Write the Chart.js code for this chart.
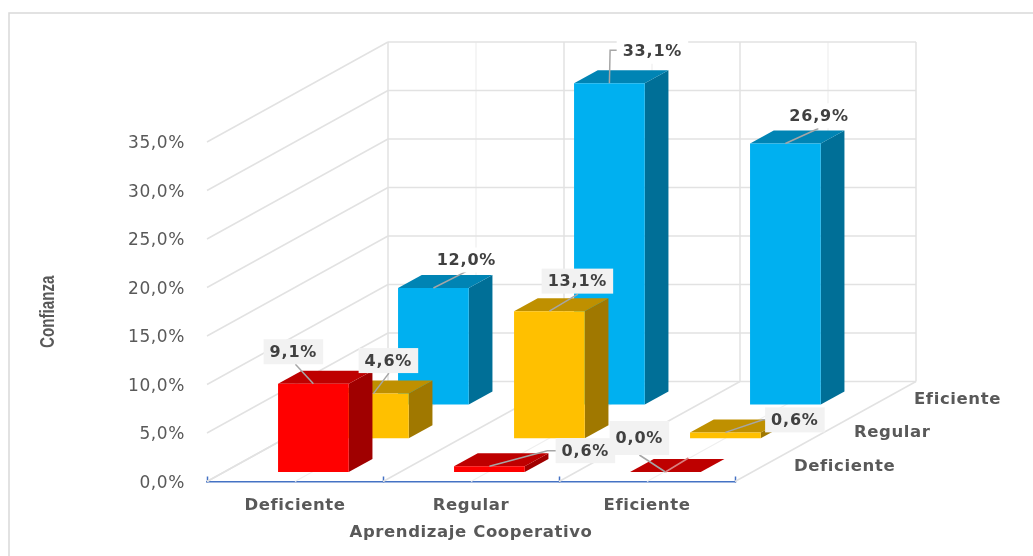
<!DOCTYPE html>
<html>
<head>
<meta charset="utf-8">
<script src="https://cdn.jsdelivr.net/npm/chart.js@4"></script>
<style>
    html, body { margin: 0; padding: 0; background: #fff; }
    canvas { display: block; }
</style>
</head>
<body>
<canvas id="graph" width="1033" height="556"></canvas>
<script>
const categories = ['Deficiente', 'Regular', 'Eficiente'];
const seriesNames = ['Deficiente', 'Regular', 'Eficiente'];
const valuesDeficiente = [9.1, 0.6, 0.0];
const valuesRegular = [4.6, 13.1, 0.6];
const valuesEficiente = [12.0, 33.1, 26.9];
const yTicks = [0, 5, 10, 15, 20, 25, 30, 35];
const xTitle = 'Aprendizaje Cooperativo';
const yTitle = 'Confianza';

// colours per series: front, top, side
const faces = [
    ['#FF0000', '#BE0000', '#A00000'],
    ['#FFC000', '#BF9000', '#A07800'],
    ['#00B0F0', '#0084B4', '#006F97']
];

// projection of the depth axis, in pixels
const wallDepth = { x: 181, y: -100 };
const slot = { x: 60, y: -33.8 };
const firstSlot = { x: 18.4, y: -9.5 };
const barDepth = { x: 23.7, y: -13 };

// data label placement relative to the top centre of each bar [series][category]
const labelPlaces = [
    [
        { at: [-20, -32], lead: [[-18, -19.5]], box: '#F2F2F2' },
        { at: [96, -15.5], lead: [[58, -15.5], [67, -15.5]], box: '#F2F2F2' },
        { at: [-26, -34], lead: [[-26, -17]], box: '#F2F2F2', boxH: 34, extra: [23, -14] }
    ],
    [
        { at: [15, -33], lead: [[15.5, -20.5]], box: '#F2F2F2' },
        { at: [28, -30], lead: [[28.5, -17]], box: '#F2F2F2' },
        { at: [69.5, -12.5], lead: [[37.6, -12.7], [40, -12.7]], box: '#F2F2F2' }
    ],
    [
        { at: [33, -28], lead: [[32.5, -16.3]], box: '#FFFFFF' },
        { at: [43, -32], lead: [[0.7, -33], [8, -33]], box: '#FFFFFF' },
        { at: [33.7, -27.7], lead: [[33, -15]], box: '#FFFFFF' }
    ]
];

function pct(v) {
    return v.toFixed(1).replace('.', ',') + '%';
}

function line(ctx, x1, y1, x2, y2) {
    ctx.beginPath();
    ctx.moveTo(x1, y1);
    ctx.lineTo(x2, y2);
    ctx.stroke();
}

function poly(ctx, pts, color) {
    ctx.fillStyle = color;
    ctx.beginPath();
    pts.forEach((p, i) => i ? ctx.lineTo(p[0], p[1]) : ctx.moveTo(p[0], p[1]));
    ctx.closePath();
    ctx.fill();
}

const frame3d = {
    id: 'frame3d',
    beforeDraw(chart) {
        // the reference text is wider than the installed fonts
        chart.ctx.letterSpacing = '0.6px';
    },
    beforeDatasetsDraw(chart) {
        const { ctx, scales: { x, y } } = chart;
        const bottom = y.getPixelForValue(0);
        const top = y.getPixelForValue(35);
        ctx.save();
        // outer frame of the picture, open at the right and bottom
        ctx.strokeStyle = '#D9D9D9';
        ctx.lineWidth = 1.5;
        ctx.beginPath();
        ctx.moveTo(9, 556);
        ctx.lineTo(9, 13);
        ctx.lineTo(1033, 13);
        ctx.stroke();

        // faint lines at the middle of each category
        ctx.strokeStyle = '#EFEFEF';
        ctx.lineWidth = 1.2;
        categories.forEach((c, i) => {
            const px = x.getPixelForTick(i);
            line(ctx, px, bottom, px + wallDepth.x, bottom + wallDepth.y);
            line(ctx, px + wallDepth.x, bottom + wallDepth.y, px + wallDepth.x, top + wallDepth.y);
        });

        // walls and floor
        ctx.strokeStyle = '#E2E2E2';
        ctx.lineWidth = 1.5;
        const step = x.width / categories.length;
        for (let i = 0; i <= categories.length; i++) {
            const px = x.left + step * i;
            line(ctx, px, bottom, px + wallDepth.x, bottom + wallDepth.y);
            line(ctx, px + wallDepth.x, bottom + wallDepth.y, px + wallDepth.x, top + wallDepth.y);
        }
        y.ticks.forEach(t => {
            const py = y.getPixelForValue(t.value);
            line(ctx, x.left, py, x.left + wallDepth.x, py + wallDepth.y);
            line(ctx, x.left + wallDepth.x, py + wallDepth.y, x.right + wallDepth.x, py + wallDepth.y);
        });
        ctx.restore();
    },
    beforeDatasetDraw(chart, args) {
        const { ctx } = chart;
        const i = args.index;
        ctx.save();
        ctx.translate(firstSlot.x + slot.x * i, firstSlot.y + slot.y * i);
        args.meta.data.forEach(bar => {
            const l = bar.x - bar.width / 2;
            const r = bar.x + bar.width / 2;
            const d = barDepth;
            poly(ctx, [[r, bar.y], [r + d.x, bar.y + d.y], [r + d.x, bar.base + d.y], [r, bar.base]], faces[i][2]);
            poly(ctx, [[l, bar.y], [l + d.x, bar.y + d.y], [r + d.x, bar.y + d.y], [r, bar.y]], faces[i][1]);
        });
    },
    afterDatasetDraw(chart) {
        chart.ctx.restore();
    },
    afterDraw(chart) {
        const { ctx, scales: { x, y } } = chart;
        ctx.save();
        ctx.fillStyle = '#595959';
        ctx.textBaseline = 'middle';

        // y axis title, squeezed like the condensed font of the reference
        ctx.save();
        ctx.letterSpacing = '0px';
        ctx.font = 'bold 20px "Liberation Sans"';
        ctx.textAlign = 'center';
        ctx.translate(48, (y.top + y.bottom) / 2);
        ctx.rotate(-Math.PI / 2);
        ctx.scale(0.76, 1);
        ctx.fillText(yTitle, 0, 0);
        ctx.restore();

        // labels of the depth axis
        ctx.font = 'bold 16.5px "DejaVu Sans"';
        ctx.textAlign = 'left';
        seriesNames.forEach((name, i) => {
            ctx.fillText(name, x.right + 59 + slot.x * i, y.bottom - 14.5 + slot.y * i);
        });

        // data labels with their leader lines
        ctx.font = 'bold 16px "DejaVu Sans"';
        ctx.letterSpacing = '0.8px';
        ctx.textAlign = 'center';
        chart.data.datasets.forEach((ds, i) => {
            chart.getDatasetMeta(i).data.forEach((bar, j) => {
                const ax = bar.x + firstSlot.x + slot.x * i;
                const ay = bar.y + firstSlot.y + slot.y * i;
                const place = labelPlaces[i][j];
                const text = pct(ds.data[j]);
                const w = ctx.measureText(text).width + 12;
                const h = place.boxH || 25;
                ctx.strokeStyle = '#A6A6A6';
                ctx.lineWidth = 1.5;
                ctx.beginPath();
                ctx.moveTo(ax, ay);
                place.lead.forEach(p => ctx.lineTo(ax + p[0], ay + p[1]));
                ctx.stroke();
                if (place.extra) {
                    ctx.strokeStyle = '#D98080';
                    line(ctx, ax, ay, ax + place.extra[0], ay + place.extra[1]);
                }
                ctx.fillStyle = place.box;
                ctx.fillRect(ax + place.at[0] - w / 2, ay + place.at[1] - h / 2, w, h);
                ctx.fillStyle = '#404040';
                ctx.fillText(text, ax + place.at[0], ay + place.at[1] + 1);
            });
        });
        ctx.restore();
    }
};

new Chart(document.getElementById('graph'), {
    type: 'bar',
    data: {
        labels: categories,
        datasets: [valuesDeficiente, valuesRegular, valuesEficiente].map((vals, i) => ({
            label: seriesNames[i],
            data: vals,
            backgroundColor: faces[i][0],
            borderWidth: 0,
            clip: false,
            grouped: false,
            categoryPercentage: 1,
            barPercentage: 70.7 / 176
        }))
    },
    options: {
        responsive: false,
        animation: false,
        layout: { padding: { top: 142, right: 298, left: 0, bottom: 0 } },
        plugins: { legend: { display: false }, tooltip: { enabled: false } },
        scales: {
            x: {
                afterFit: s => { s.height = 74.5; },
                border: { color: '#4472C4', width: 1.5 },
                grid: { drawOnChartArea: false, tickLength: -5, color: '#4472C4', tickWidth: 1.5 },
                ticks: {
                    color: '#595959',
                    padding: 19,
                    maxRotation: 0,
                    font: { family: '"DejaVu Sans"', size: 16.5, weight: 'bold' }
                },
                title: {
                    display: true,
                    text: xTitle,
                    color: '#595959',
                    align: 'center',
                    padding: { top: 4, bottom: 13 },
                    font: { family: '"DejaVu Sans"', size: 16.5, weight: 'bold' }
                }
            },
            y: {
                min: 0,
                max: 35,
                afterFit: s => { s.width = 207; },
                afterBuildTicks: s => { s.ticks = yTicks.map(v => ({ value: v })); },
                border: { display: false },
                grid: { display: false, drawTicks: false },
                ticks: {
                    color: '#595959',
                    padding: 22,
                    labelOffset: 2,
                    callback: v => pct(v),
                    font: { family: '"DejaVu Sans"', size: 17 }
                }
            }
        }
    },
    plugins: [frame3d]
});
</script>
</body>
</html>
